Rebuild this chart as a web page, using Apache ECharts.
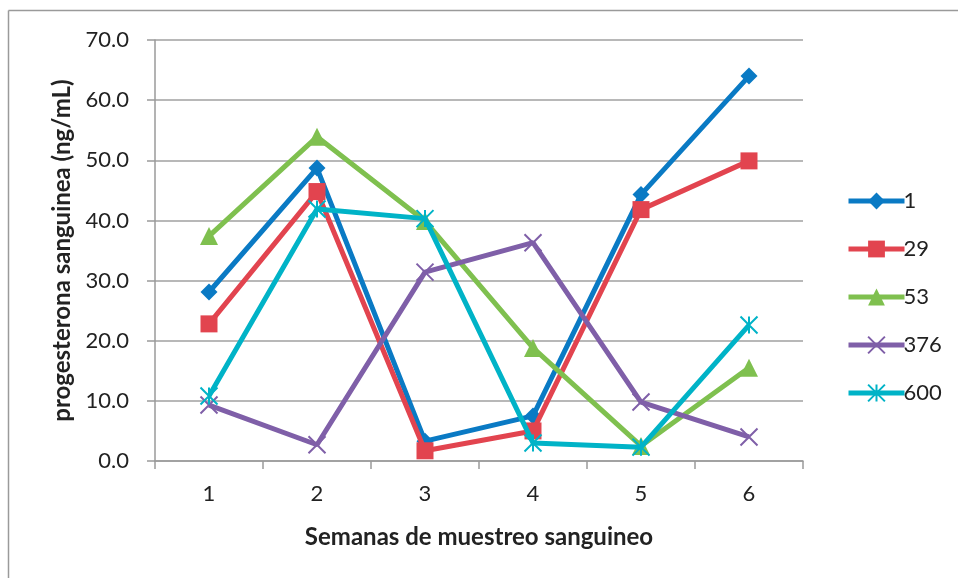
<!DOCTYPE html>
<html>
<head>
<meta charset="utf-8">
<script src="https://cdn.jsdelivr.net/npm/echarts@6/dist/echarts.min.js"></script>
<style>html,body{margin:0;padding:0;background:#fff}#c{width:958px;height:578px}</style>
</head>
<body>
<div id="c"></div>
<script>
const categories = ['1', '2', '3', '4', '5', '6'];
const seriesNames = ['1', '29', '53', '376', '600'];
const s1 = [28.1, 48.7, 3.3, 7.5, 44.3, 64.0];
const s29 = [22.8, 44.8, 1.7, 5.0, 41.8, 49.9];
const s53 = [37.4, 53.9, 39.9, 18.8, 2.5, 15.5];
const s376 = [9.3, 2.7, 31.4, 36.3, 9.8, 4.0];
const s600 = [10.8, 41.9, 40.3, 3.0, 2.3, 22.6];
const yTicks = [0, 10, 20, 30, 40, 50, 60, 70];

const colors = ['#0A7AC4', '#E2444F', '#7FC04F', '#7F5FA8', '#00B3C7'];
const font = 'Lato, "Open Sans", "Liberation Sans", sans-serif';
const xPath = 'path://M0,0 L10,10 M10,0 L0,10';
const starPath = 'path://M0,0 L10,10 M10,0 L0,10 M5,0 L5,10';

const data = [s1, s29, s53, s376, s600];
const symbols = ['diamond', 'rect', 'triangle', xPath, starPath];
const sizes = [17, 17, 18, 17, 17];

const chart = echarts.init(document.getElementById('c'));
chart.setOption({
  animation: false,
  textStyle: { fontFamily: font },
  graphic: [
    { type: 'line', shape: { x1: 8.5, y1: 10.5, x2: 958, y2: 10.5 }, style: { stroke: '#9a9a9a', lineWidth: 1.5 } },
    { type: 'line', shape: { x1: 8.5, y1: 10.5, x2: 8.5, y2: 578 }, style: { stroke: '#9a9a9a', lineWidth: 1.5 } }
  ],
  grid: { left: 155, right: 155, top: 40, bottom: 117, containLabel: false },
  legend: {
    orient: 'vertical', left: 841, top: 185,
    itemWidth: 56, itemHeight: 21, itemGap: 26,
    lineStyle: { width: 5 },
    textStyle: { fontSize: 22, color: '#222', fontFamily: font, padding: [0, 0, 0, -6] },
    data: seriesNames
  },
  xAxis: {
    type: 'category', data: categories, boundaryGap: true,
    name: 'Semanas de muestreo sanguineo', nameLocation: 'middle', nameGap: 64,
    nameTextStyle: { fontSize: 24, fontWeight: 'bold', color: '#222', fontFamily: font },
    axisLine: { lineStyle: { color: '#9a9a9a', width: 1.5 } },
    axisTick: { show: true, length: 8, alignWithLabel: false, lineStyle: { color: '#9a9a9a', width: 1.5 } },
    axisLabel: { fontSize: 22, color: '#222', margin: 22 },
    splitLine: { show: false }
  },
  yAxis: {
    type: 'value', min: 0, max: 70, interval: 10,
    name: 'progesterona sanguinea (ng/mL)', nameLocation: 'middle', nameGap: 80, nameRotate: 90,
    nameTextStyle: { fontSize: 24, fontWeight: 'bold', color: '#222', fontFamily: font },
    axisLine: { show: true, lineStyle: { color: '#9a9a9a', width: 1.5 } },
    axisTick: { show: true, length: 8, lineStyle: { color: '#9a9a9a', width: 1.5 } },
    axisLabel: { fontSize: 22, color: '#222', margin: 26, formatter: v => yTicks.includes(v) ? v.toFixed(1) : '' },
    splitLine: { show: true, lineStyle: { color: '#a0a0a0', width: 1.5 } }
  },
  series: seriesNames.map((n, i) => ({
    name: n, type: 'line', data: data[i],
    symbol: symbols[i], symbolSize: sizes[i], showAllSymbol: true,
    lineStyle: { color: colors[i], width: 5 },
    itemStyle: i >= 3 ? { color: colors[i], borderColor: colors[i], borderWidth: 2 } : { color: colors[i] },
    z: 2 + i
  }))
});
</script>
</body>
</html>
